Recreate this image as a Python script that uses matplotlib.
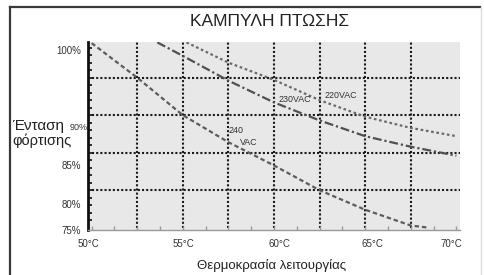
import numpy as np
import matplotlib
matplotlib.use("Agg")
import matplotlib.pyplot as plt
from matplotlib.lines import Line2D

plt.rcParams['font.family'] = ['Liberation Sans', 'DejaVu Sans']

# ==================================================
# Data
# ==================================================
temp_220 = [55.2, 57.5, 60, 62.5, 65, 67.5, 70]
load_220 = [99.7, 97.0, 94.7, 92.0, 89.8, 88.3, 87.2]

temp_230 = [53.6, 55, 57.5, 60, 62.5, 65, 67.5, 70]
load_230 = [99.7, 97.9, 94.6, 91.7, 89.3, 87.2, 85.8, 84.6]

temp_240 = [50, 52.5, 55, 57.5, 60, 62.5, 65, 67.5, 68.5]
load_240 = [99.6, 95, 90, 86.4, 83.3, 80, 77.4, 75.3, 75.0]

x_labels = ['50°C', '55°C', '60°C', '65°C', '70°C']
y_labels = ['100%', '85%', '80%', '75%']

# where the labels sit in the picture (they do not line up with the grid)
x_label_pos = [49.8, 55.05, 60.3, 65.4, 69.7]
y_label_pos = [98.7, 83.3, 78.2, 74.7]
grid_x = [52.5, 55, 57.5, 60, 62.5, 65, 67.5]
grid_y = [80, 85, 90, 95]

# ==================================================
# Figure and axes
# ==================================================
W, H = 484, 275
fig = plt.figure(figsize=(W / 100, H / 100), dpi=100)
ax = fig.add_axes([88 / W, 1 - 230 / H, (460 - 88) / W, (230 - 42) / H])
ax.set_xlim(50, 70.2)
ax.set_ylim(75, 99.75)
ax.set_facecolor('#e8e8e8')

for s in ['top', 'right']:
    ax.spines[s].set_visible(False)
ax.spines['left'].set_color('#111111')
ax.spines['left'].set_linewidth(2)
ax.spines['bottom'].set_color('#9a9a9a')
ax.spines['bottom'].set_linewidth(1)

# dotted grid
ax.vlines(grid_x, 75, 99.75, colors='#1a1a1a', linestyles=(0, (1, 1)), linewidth=1.5, zorder=1)
ax.hlines(grid_y, 50, 70.2, colors='#1a1a1a', linestyles=(0, (1, 1)), linewidth=1.5, zorder=1)

# curves
ax.plot(temp_240, load_240, color='#5c5c5c', linestyle=(0, (2, 1.3)), linewidth=1.6, zorder=2)
ax.plot(temp_230, load_230, color='#505050', linestyle=(0, (4, 1.3, 1, 1.3)), linewidth=1.6, zorder=2)
ax.plot(temp_220, load_220, color='#6a6a6a', linestyle=(0, (1.2, 1.2)), linewidth=1.6, zorder=2)

# ticks
ax.set_xticks(x_label_pos)
ax.set_xticklabels(x_labels, fontsize=7, color='#333333')
ax.set_xticks(np.arange(50, 70.1, 1.25), minor=True)
ax.tick_params(axis='x', which='major', length=0, pad=6.5)
ax.tick_params(axis='x', which='minor', length=3, direction='in', color='#9a9a9a', width=1)

ax.set_yticks(y_label_pos)
ax.set_yticklabels(y_labels, fontsize=7, color='#333333')
ax.set_yticks(np.arange(76, 100, 1), minor=True)
ax.tick_params(axis='y', which='major', length=0, pad=5)
ax.tick_params(axis='y', which='minor', length=3, direction='in', color='#111111', width=1.2)

# curve labels
ax.text(60.27, 92.1, '230VAC', fontsize=6.4, color='#333333', va='center', ha='left', zorder=3)
ax.text(62.77, 92.6, '220VAC', fontsize=6.4, color='#333333', va='center', ha='left', zorder=3)
ax.text(57.5, 87.9, '240', fontsize=6.4, color='#333333', va='center', ha='left', zorder=3)
ax.text(58.15, 86.4, 'VAC', fontsize=6.4, color='#333333', va='center', ha='left', zorder=3)

# ==================================================
# Titles and axis texts
# ==================================================
fig.text(270 / W, 1 - 21 / H, 'ΚΑΜΠΥΛΗ ΠΤΩΣΗΣ', ha='center', va='center', fontsize=12.5, color='#222222')
fig.text(272 / W, 1 - 265 / H, 'Θερμοκρασία λειτουργίας', ha='center', va='center', fontsize=9.5, color='#222222')
fig.text(12 / W, 1 - 130 / H, 'Ένταση', ha='left', va='baseline', fontsize=11, color='#222222')
fig.text(12 / W, 1 - 145 / H, 'φόρτισης', ha='left', va='baseline', fontsize=10.5, color='#222222')
fig.text(88 / W, 1 - 127 / H, '90%', ha='right', va='center', fontsize=6.5, color='#333333')

# outer frame (left and top edges)
fig.add_artist(Line2D([10 / W, 10 / W], [0, 1 - 7 / H], color='#3a3a3a', linewidth=1.6))
fig.add_artist(Line2D([10 / W, 480 / W], [1 - 7 / H, 1 - 7 / H], color='#3a3a3a', linewidth=1.6))
fig.add_artist(Line2D([481 / W, 481 / W], [0, 1 - 7 / H], color='#dddddd', linewidth=1))

fig.savefig('out.png', dpi=100)
